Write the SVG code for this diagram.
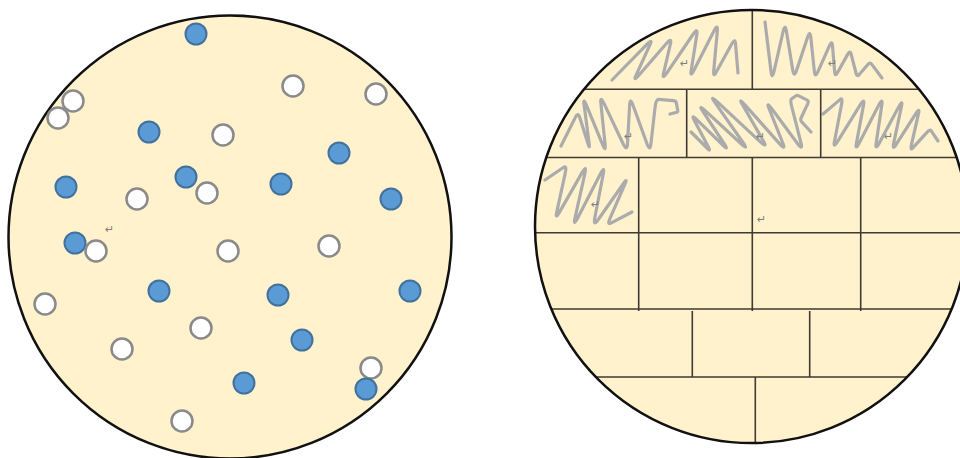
<svg xmlns="http://www.w3.org/2000/svg" width="960" height="458" viewBox="0 0 960 458">
<style>
.dish{fill:#fff2cc;stroke:#111;stroke-width:2.5}
.b{fill:#5b9bd5;stroke:#41719c;stroke-width:2}
.w{fill:#ffffff;stroke:#8a8a8a;stroke-width:2.5}
.ln{stroke:#3f3a33;stroke-width:1.6;fill:none}
.sc{fill:none;stroke:#ababab;stroke-width:3.2;stroke-linejoin:round;stroke-linecap:round}
.pm{font-family:"DejaVu Sans",sans-serif;font-size:11px;fill:#808080}
</style>
<defs>
<clipPath id="rc"><circle cx="751.5" cy="226.5" r="216.5"/></clipPath>
</defs>
<rect width="960" height="458" fill="#ffffff"/>
<g id="left-dish">
<circle class="dish" cx="230" cy="237" r="221.5"/>
<text class="pm" x="105" y="233">↵</text>
<g id="dots">
<circle class="b" cx="196" cy="34" r="10.5"/>
<circle class="w" cx="293" cy="86" r="10.5"/>
<circle class="w" cx="376" cy="94" r="10.5"/>
<circle class="w" cx="73" cy="101" r="10.5"/>
<circle class="w" cx="58" cy="118" r="10.5"/>
<circle class="b" cx="149" cy="132" r="10.5"/>
<circle class="w" cx="223" cy="135" r="10.5"/>
<circle class="b" cx="339" cy="153" r="10.5"/>
<circle class="b" cx="66" cy="187" r="10.5"/>
<circle class="b" cx="186" cy="177" r="10.5"/>
<circle class="w" cx="207" cy="193" r="10.5"/>
<circle class="b" cx="281" cy="184" r="10.5"/>
<circle class="w" cx="137" cy="199" r="10.5"/>
<circle class="b" cx="391" cy="199" r="10.5"/>
<circle class="b" cx="75" cy="243" r="10.5"/>
<circle class="w" cx="96" cy="251" r="10.5"/>
<circle class="w" cx="228" cy="251" r="10.5"/>
<circle class="w" cx="329" cy="246" r="10.5"/>
<circle class="b" cx="159" cy="291" r="10.5"/>
<circle class="b" cx="278" cy="295" r="10.5"/>
<circle class="b" cx="410" cy="291" r="10.5"/>
<circle class="w" cx="45" cy="304" r="10.5"/>
<circle class="w" cx="201" cy="328" r="10.5"/>
<circle class="b" cx="302" cy="340" r="10.5"/>
<circle class="w" cx="122" cy="349" r="10.5"/>
<circle class="w" cx="371" cy="368" r="10.5"/>
<circle class="b" cx="366" cy="389" r="10.5"/>
<circle class="b" cx="244" cy="383" r="10.5"/>
<circle class="w" cx="182" cy="421" r="10.5"/>
</g>
</g>
<g id="right-dish">
<circle cx="751.5" cy="226.5" r="216.5" fill="#fff2cc"/>
<g id="scribbles" class="sc">
<path d="M612,80 L646.9,44.3 Q653,38 650,44.6 L636,75.4 Q633,82 638.9,75.3 L666.2,43.8 Q672,37 670.5,43.5 L663.5,73.6 Q662,80 667.4,72.1 L692.6,35 Q698,27 696.8,34.7 L691.2,70.4 Q690,78 694.2,69.8 L713.8,31.3 Q718,23 717.3,31.3 L713.8,69.8 Q713,78 716.3,72 L731.7,44 Q735,38 735.5,43.3 L738,73"/>
<path d="M765,22 L771,71.3 Q772,80 774,71.5 L783.1,31.6 Q785,23 786.4,31.3 L792.7,69.8 Q794,78 796.4,70.8 L807.6,37.2 Q810,30 810.8,37.2 L814.3,70.8 Q815,78 817.6,72.3 L829.5,45.7 Q832,40 832.5,45.6 L834.6,71.5 Q835,77 837.3,73 L847.8,54.1 Q850,50 851.1,54.1 L856,73 Q857,77 859,74.8 L868.1,64.3 Q870,62 871.8,64.4 L882,78"/>
<path d="M561,146 L575.5,117.1 Q578,112 579.8,117.7 L588.2,144.3 Q590,150 589,142.1 L584.1,105 Q583,97 586.5,105.4 L602.6,144.6 Q606,153 605.1,144.3 L600.9,103.7 Q600,95 604.1,103.6 L623,143.5 Q627,152 627.5,143.8 L629.6,105.3 Q630,97 633,105.3 L647,143.8 Q650,152 650.9,144.1 L655.1,107 Q656,99 659,99.3 L673,100.7 Q676,101 676.3,102.7 L677.7,110.4 Q678,112 676.8,112.3 L670,114"/>
<path d="M691,132 L708,149 Q711,152 708,146.3 L694,119.7 Q691,114 696.7,119.6 L723.3,145.5 Q729,151 724.4,144 L702.7,111.1 Q698,104 705.7,111.1 L741.4,144 Q749,151 743,142.5 L715,102.6 Q709,94 717.9,102.3 L759.2,140.8 Q768,149 763.5,141.2 L742.5,104.8 Q738,97 745.2,105.1 L778.8,142.9 Q786,151 783,143.5 L769,108.5 Q766,101 771.6,108.5 L797.5,143.5 Q803,151 801.1,143.4 L792,107.7 Q790,100 791.1,99.3 L796,95.8 Q797,95 798.8,95.9 L807.2,100.1 Q809,101 807.7,103.9 L801.4,117.2 Q800,120 801.7,121.8 L811,132"/>
<path d="M823,114 L840,99.6 Q843,97 841.5,104.8 L834.5,141.2 Q833,149 837.8,141.2 L860.2,104.8 Q865,97 863.5,105.1 L856.5,142.9 Q855,151 859.2,142.9 L878.8,105.1 Q883,97 881.8,105.1 L876.2,142.9 Q875,151 879.2,143.2 L898.8,106.8 Q903,99 901.4,106.8 L893.7,143.2 Q892,151 896.2,144.4 L915.8,113.6 Q920,107 918.5,113.6 L911.5,144.4 Q910,151 913,147.7 L927,132.3 Q930,129 931.2,130.8 L938,141"/>
<path d="M545,180 L563.7,167.3 Q567,165 565.2,173.3 L556.8,211.8 Q555,220 559.8,211.6 L582.2,172.4 Q587,164 584.9,173.5 L575.1,217.6 Q573,227 577.8,217.7 L600.2,174.3 Q605,165 603.2,174.3 L594.8,217.7 Q593,227 598.3,219.5 L622.8,184.5 Q628,177 624.9,184.2 L610.2,217.8 Q607,225 610.8,223.1 L632,212"/>
</g>
<g id="grid" class="ln" clip-path="url(#rc)">
<line x1="752.3" y1="8" x2="752.3" y2="89"/>
<line x1="530" y1="89.3" x2="970" y2="89.3"/>
<line x1="686.7" y1="89" x2="686.7" y2="157.5"/>
<line x1="820.7" y1="89" x2="820.7" y2="157.5"/>
<line x1="530" y1="157.5" x2="970" y2="157.5"/>
<line x1="638.7" y1="157.5" x2="638.7" y2="311"/>
<line x1="752.3" y1="157.5" x2="752.3" y2="311"/>
<line x1="860.7" y1="157.5" x2="860.7" y2="311"/>
<line x1="530" y1="232.7" x2="970" y2="232.7"/>
<line x1="530" y1="309" x2="970" y2="309"/>
<line x1="692.3" y1="311" x2="692.3" y2="377"/>
<line x1="809.7" y1="311" x2="809.7" y2="377"/>
<line x1="530" y1="377" x2="970" y2="377"/>
<line x1="755.3" y1="377" x2="755.3" y2="446"/>
</g>
<circle cx="751.5" cy="226.5" r="216.5" fill="none" stroke="#111" stroke-width="2.5"/>
<g id="marks">
<text class="pm" x="680" y="67">↵</text>
<text class="pm" x="828" y="67">↵</text>
<text class="pm" x="624" y="140">↵</text>
<text class="pm" x="756" y="140">↵</text>
<text class="pm" x="884" y="140">↵</text>
<text class="pm" x="591" y="208">↵</text>
<text class="pm" x="757" y="223">↵</text>
</g>
</g>
</svg>
